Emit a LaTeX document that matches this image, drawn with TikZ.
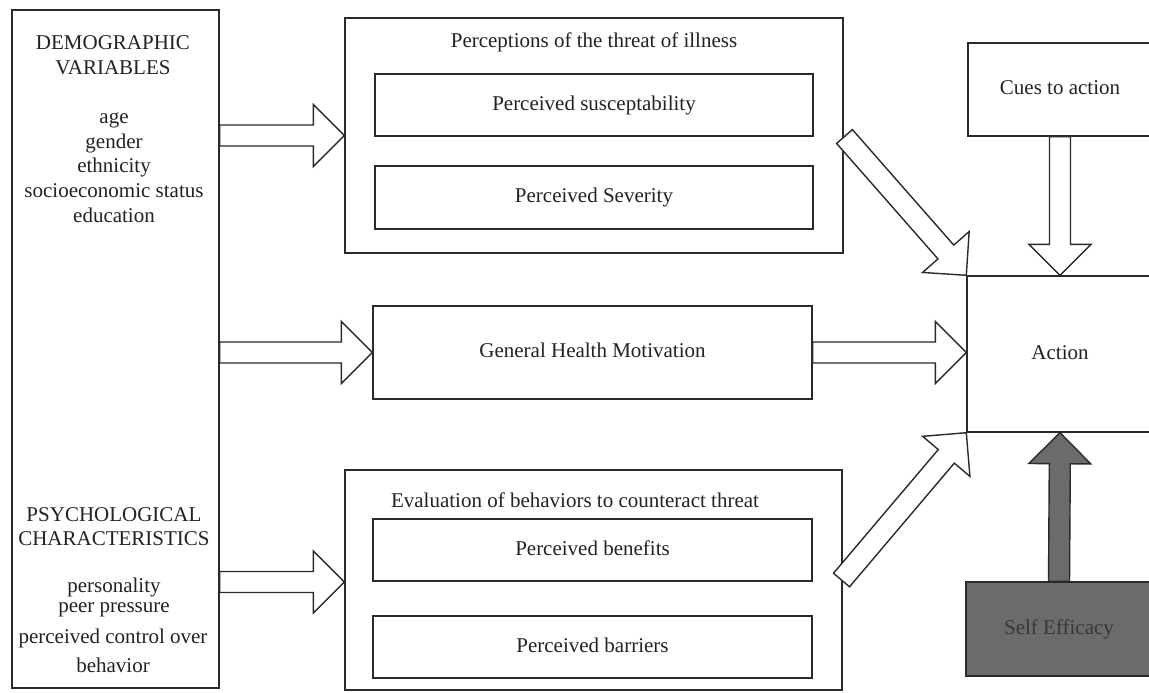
\documentclass[tikz,border=0pt]{standalone}
\usepackage{fontspec}
\setmainfont{Liberation Serif}
\usetikzlibrary{calc,fit}
\definecolor{linec}{HTML}{2A2A2A}
\definecolor{txtc}{HTML}{222222}
\definecolor{darkf}{HTML}{6B6B6B}
\definecolor{darkt}{HTML}{383838}
\tikzset{
  box/.style={draw=linec, line width=0.7pt, inner sep=0pt},
  lbl/.style={font=\fontsize{10.5}{12}\selectfont, text=txtc, inner sep=0pt},
  mid/.style={lbl, text height=0.7em, text depth=0.2em},
  blk/.style={draw=linec, line width=0.7pt, fill=white, line join=miter},
  blkdark/.style={draw=linec, line width=0.7pt, fill=darkf, line join=miter},
}
\newcommand{\blockarrow}[3]{%
  \path ($(#3)!15.5pt!(#2)$) coordinate (bh);
  \draw[#1] ($(#2)!5.25pt!90:(#3)$) -- ($(bh)!5.25pt!-90:(#2)$) -- ($(bh)!15.5pt!-90:(#2)$)
    -- (#3) -- ($(bh)!15.5pt!90:(#2)$) -- ($(bh)!5.25pt!90:(#2)$) -- ($(#2)!5.25pt!-90:(#3)$) -- cycle;
}
\begin{document}
\begin{tikzpicture}[x=0.5pt,y=-0.5pt]
\useasboundingbox (0,0) rectangle (1149,692);
\clip (0,0) rectangle (1149,692);
\fill[white] (0,0) rectangle (1149,692);

% boxes
\node[box, fit={(12,10) (219,688)}] (left) {};
\node[box, fit={(345,18) (843,253)}] (threat) {};
\node[box, fit={(375,74) (813,136)}] (susc) {};
\node[box, fit={(375,166) (813,229)}] (sev) {};
\node[box, fit={(373,306) (812,399)}] (ghm) {};
\node[box, fit={(345,470) (842,690)}] (eval) {};
\node[box, fit={(373,519) (812,581)}] (ben) {};
\node[box, fit={(373,616) (812,678)}] (bar) {};
\node[box, fit={(968,43) (1152,136)}] (cues) {};
\node[box, fit={(967,276) (1153,432)}] (action) {};
\node[box, fill=darkf, fit={(966,582) (1152,676)}] (self) {};

% box texts
\node[mid] (tthreat) at (594,42) {Perceptions of the threat of illness};
\node[mid] (tsusc) at (susc.center) {Perceived susceptability};
\node[mid] (tsev) at (sev.center) {Perceived Severity};
\node[mid] (tghm) at (ghm.center) {General Health Motivation};
\node[mid] (teval) at (575,502) {Evaluation of behaviors to counteract threat};
\node[mid] (tben) at (ben.center) {Perceived benefits};
\node[mid] (tbar) at (bar.center) {Perceived barriers};
\node[mid] (tcues) at (cues.center) {Cues to action};
\node[mid] (tact) at (action.center) {Action};
\node[mid, text=darkt] (tself) at (self.center) {Self Efficacy};

% left texts
\node[lbl, anchor=base] (d1) at (113,49) {DEMOGRAPHIC};
\node[lbl, anchor=base] (d2) at (113,74) {VARIABLES};
\node[lbl, anchor=base] (d3) at (114,123) {age};
\node[lbl, anchor=base] (d4) at (114,148) {gender};
\node[lbl, anchor=base] (d5) at (114,172) {ethnicity};
\node[lbl, anchor=base] (d6) at (114,197) {socioeconomic status};
\node[lbl, anchor=base] (d7) at (114,222) {education};
\node[lbl, anchor=base] (p1) at (114,521) {PSYCHOLOGICAL};
\node[lbl, anchor=base] (p2) at (114,545) {CHARACTERISTICS};
\node[lbl, anchor=base] (p3) at (114,592) {personality};
\node[lbl, anchor=base] (p4) at (114,612) {peer pressure};
\node[lbl, anchor=base] (p5) at (113,643) {perceived control over};
\node[lbl, anchor=base] (p6) at (113,672) {behavior};

% arrow end points
\coordinate (a1s) at (left.east |- 0,135.5);
\coordinate (a1e) at (threat.west |- 0,135.5);
\coordinate (a2s) at (left.east |- ghm.west);
\coordinate (a3e) at (action.west |- ghm.east);
\coordinate (a4s) at (left.east |- 0,582);
\coordinate (a4e) at (eval.west |- 0,582);
\coordinate (a5s) at (844.5,136.5);
\coordinate (a6s) at (841.5,580);

\blockarrow{blk}{a1s}{a1e}
\blockarrow{blk}{a2s}{ghm.west}
\blockarrow{blk}{ghm.east}{a3e}
\blockarrow{blk}{a4s}{a4e}
\blockarrow{blk}{a5s}{action.north west}
\blockarrow{blk}{a6s}{action.south west}
\blockarrow{blk}{cues.south}{action.north}
\blockarrow{blkdark}{self.north}{action.south}
\end{tikzpicture}
\end{document}
